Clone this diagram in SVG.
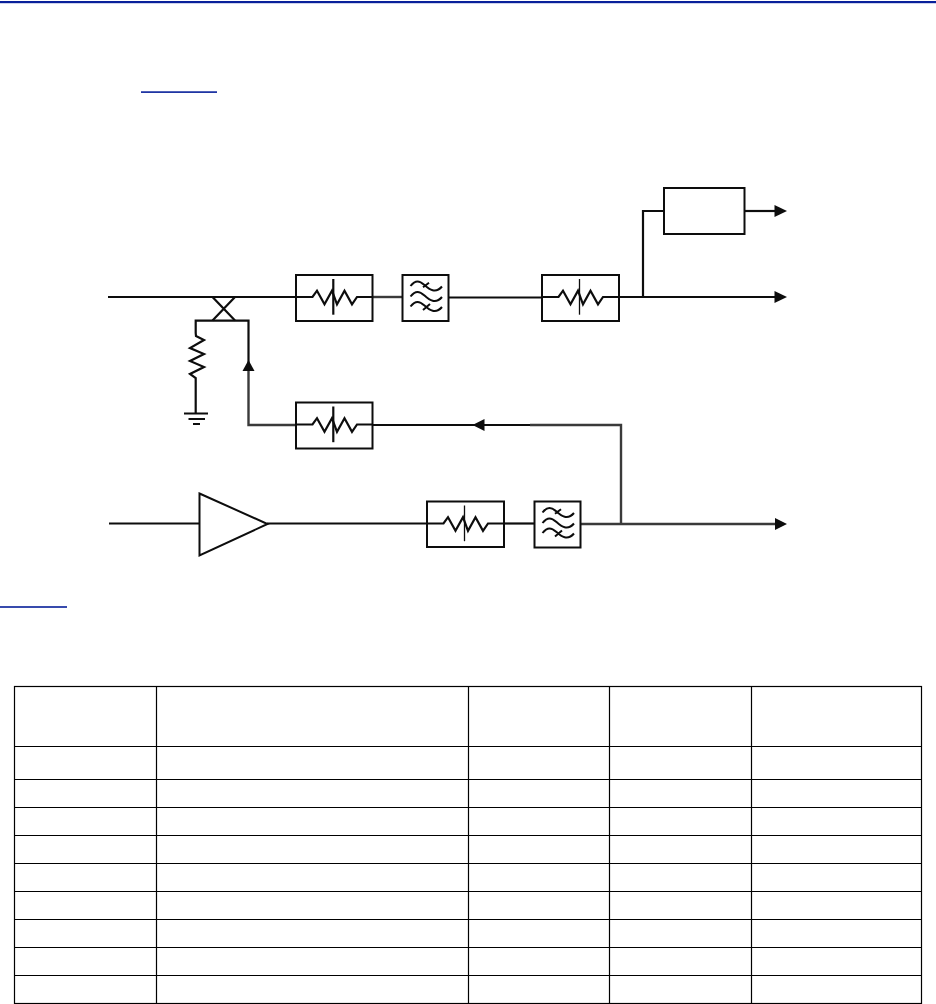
<svg xmlns="http://www.w3.org/2000/svg" xmlns:xlink="http://www.w3.org/1999/xlink" width="936" height="1004" viewBox="0 0 936 1004">
<style>
.w{fill:none;stroke:#0d0d0d;stroke-width:2.2}
.t{fill:none;stroke:#0d0d0d;stroke-width:2}
.b{fill:#fff;stroke:#0d0d0d;stroke-width:2}
.g{fill:none;stroke:#3a3a3a;stroke-width:2.4}
.h{fill:#0d0d0d;stroke:none}
.tb{fill:none;stroke:#000;stroke-width:1.2}
</style>
<defs>
<g id="att">
<rect class="b" x="0" y="0" width="76.500" height="46"/>
<path class="w" d="M0 22H16.500L21 15.700L28.500 29.300L36 15.700L41 29.300L48.500 15.700L56 29.300L61 22H76.500"/>
<path class="w" d="M37.300 4V39.700"/>
</g>
<g id="fil">
<rect class="b" x="0" y="0" width="46" height="46"/>
<path class="t" d="M8 11C13 4.500 17 5.500 22 10S33 19 39.500 11.500M8 21.500C13 15 17 16 22 20.500S33 29.500 39.500 22M8 31.500C13 25 17 26 22 30.500S33 39.500 39.500 32M20.500 12.300L26.500 7.700M20.500 35L27.500 29"/>
</g>
</defs>
<rect width="936" height="1004" fill="#fff"/>
<rect x="0" y="1" width="936" height="2.200" fill="#08209a"/>
<rect x="141" y="91.300" width="76" height="1.600" fill="#08209a"/>
<rect x="0" y="606.200" width="67" height="1.600" fill="#08209a"/>
<g id="connectors">
<path class="w" d="M108 297H296"/>
<path class="g" d="M372 297H403"/>
<path class="w" d="M448 297.500H542"/>
<path class="w" d="M619 297H776"/>
<path class="w" d="M643 297V211H664"/>
<path class="w" d="M744 211H776"/>
<path class="w" d="M212.500 297L235 320.500M235 297L212.500 320.500"/>
<path class="w" d="M248.500 370V320.700H195.700V333"/>
<path class="g" d="M248.500 368V425H296"/>
<path class="w" d="M372 425H530"/>
<path class="g" d="M530 425H621V524"/>
<path class="w" d="M109 523.500H199"/>
<path class="w" d="M267 523.500H427"/>
<path class="w" d="M504 523.500H534"/>
<path class="g" d="M580 524H776"/>
<polygon class="h" points="787,211 774.500,205 774.500,217"/>
<polygon class="h" points="787,297 774.500,291 774.500,303"/>
<polygon class="h" points="787,524 775,518 775,530"/>
<polygon class="h" points="472.500,425 484.500,419 484.500,431"/>
<polygon class="h" points="248.500,360 242.500,371 254.500,371"/>
</g>
<g id="term">
<path class="w" d="M195.700 333L196 336L204 340L190 348L204 354L190 361L204 367L190 374L195.700 378V413.500"/>
<path class="w" d="M184 413.500H208M188.500 419H205M193 424H200"/>
</g>
<use id="att1" xlink:href="#att" href="#att" x="296" y="275"/>
<use id="fil1" xlink:href="#fil" href="#fil" x="402.500" y="275"/>
<g id="att2" transform="translate(542 275)">
<rect class="b" x="0" y="0" width="77" height="46"/>
<path class="w" d="M0 22H16.500L21 15.700L28.500 29.300L36 15.700L41 29.300L48.500 15.700L56 29.300L61 22H77"/>
<path d="M37.500 4V39.700" fill="none" stroke="#0d0d0d" stroke-width="1.300"/>
</g>
<g id="box"><rect class="b" x="664" y="188" width="80.500" height="46"/></g>
<use id="att3" xlink:href="#att" href="#att" x="296" y="402.500"/>
<g id="amp"><polygon class="b" points="199.500,493.500 267.500,524 199.500,555.500"/></g>
<g id="att4" transform="translate(427 501.500)">
<rect class="b" x="0" y="0" width="77" height="45.500"/>
<path class="w" d="M0 22H16.500L21 15.700L28.500 29.300L36 15.700L41 29.300L48.500 15.700L56 29.300L61 22H77"/>
<path d="M37.500 4V39.700" fill="none" stroke="#0d0d0d" stroke-width="1.300"/>
</g>
<use id="fil2" xlink:href="#fil" href="#fil" x="534.500" y="501.500"/>
<g id="table">
<rect class="tb" x="14.500" y="686.500" width="907" height="317"/>
<path class="tb" d="M156.500 686V1004M468.500 686V1004M609.500 686V1004M751.500 686V1004"/>
<path class="tb" d="M14 746.500H922M14 779.500H922M14 807.500H922M14 835.500H922M14 863.500H922M14 891.500H922M14 919.500H922M14 947.500H922M14 975.500H922"/>
</g>
</svg>
